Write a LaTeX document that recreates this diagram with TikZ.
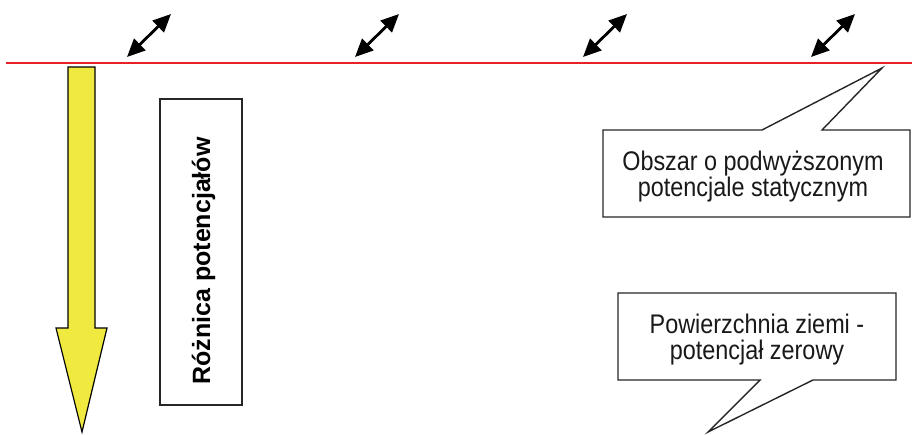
\documentclass[tikz,border=0pt]{standalone}
\usepackage{fontspec}
\setmainfont{Liberation Sans}
\usetikzlibrary{arrows.meta}
\definecolor{gnd_red}{RGB}{232, 32, 40}
\definecolor{arr_yellow}{RGB}{240, 234, 64}
\tikzstyle{frame}=[draw=black!85,line width=1.4pt,fill=white]
\tikzstyle{txt}=[align=center,inner sep=0pt,text=black!90,yscale=1.15,
  font=\fontsize{23.4}{22.6}\selectfont]
\tikzstyle{dbl}=[{Triangle[length=18pt,width=16pt]}-{Triangle[length=18pt,width=16pt]},
  line width=2.8pt]

\begin{document}
\begin{tikzpicture}[x=1pt,y=-1pt]
    \useasboundingbox (0,0) rectangle (912,434);
    \coordinate (gl) at (6,63);
    \coordinate (gr) at (912,63);
    \draw [gnd_red, line width=2.2pt] (gl) to (gr);
    \coordinate (a1) at (127,57);
    \coordinate (b1) at (171,14);
    \coordinate (a2) at (355,57);
    \coordinate (b2) at (399,14);
    \coordinate (a3) at (583,57);
    \coordinate (b3) at (627,14);
    \coordinate (a4) at (811,57);
    \coordinate (b4) at (855,14);
    \draw [style=dbl] (a1) to (b1);
    \draw [style=dbl] (a2) to (b2);
    \draw [style=dbl] (a3) to (b3);
    \draw [style=dbl] (a4) to (b4);
    \draw [fill=arr_yellow, line width=1.2pt] (68,67) -- (95,67) -- (95,328)
      -- (107,328) -- (82,432) -- (56,328) -- (68,328) -- cycle;
    \node [style=frame, minimum width=82pt, minimum height=306pt] (diff) at (201,252) {};
    \node [rotate=90, anchor=base, inner sep=0pt,
      font=\bfseries\fontsize{25}{26}\selectfont] (difftxt) at (210,261) {Różnica potencjałów};
    \draw [style=frame] (603,130) -- (762,130) -- (882,68) -- (822,130) -- (910,130)
      -- (910,217) -- (603,217) -- cycle;
    \node [style=txt] (zone) at (753,177) {Obszar o podwyższonym\\potencjale statycznym};
    \draw [style=frame] (618,293) -- (896,293) -- (896,380) -- (813,380) -- (708,432)
      -- (760,380) -- (618,380) -- cycle;
    \node [style=txt] (ground) at (757,340) {Powierzchnia ziemi -\\potencjał zerowy};
  \end{tikzpicture}
\end{document}
